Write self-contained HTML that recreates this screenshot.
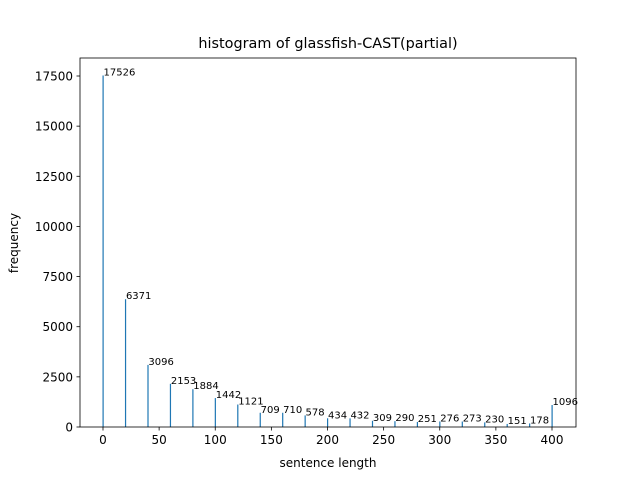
<!DOCTYPE html>
<html><head><meta charset="utf-8"><style>
body{margin:0;background:#fff;}
svg{display:block;font-family:"DejaVu Sans","Liberation Sans",sans-serif;}
</style></head><body>
<svg id="chart" width="640" height="480">
<rect x="0" y="0" width="640" height="480" fill="#fff"/>
<text x="328" y="48" text-anchor="middle" font-size="14.4" fill="#000">histogram of glassfish-CAST(partial)</text>
<g id="bars"></g>
<g id="labels"></g>
<g id="xaxis"></g>
<g id="yaxis"></g>
<rect x="80" y="58" width="496" height="369" fill="none" stroke="#000" stroke-width="0.8"/>
<text x="328" y="467" text-anchor="middle" font-size="12">sentence length</text>
<text x="18" y="243" text-anchor="middle" font-size="12" transform="rotate(-90 18 243)">frequency</text>
</svg>
<script>
const categories=[0,20,40,60,80,100,120,140,160,180,200,220,240,260,280,300,320,340,360,380,400];
const values=[17526,6371,3096,2153,1884,1442,1121,709,710,578,434,432,309,290,251,276,273,230,151,178,1096];
const xTicks=[0,50,100,150,200,250,300,350,400];
const yTicks=[0,2500,5000,7500,10000,12500,15000,17500];
const NS="http://www.w3.org/2000/svg";
const X=v=>103+v*(449/400);
const Y=v=>427-v*(351/17500);
function mk(t,a,p){const e=document.createElementNS(NS,t);for(const k in a)e.setAttribute(k,a[k]);p.appendChild(e);return e;}
const bars=document.getElementById('bars'),labels=document.getElementById('labels');
categories.forEach((c,i)=>{
  const r=mk('rect',{x:X(c)-0.5,y:Y(values[i]),width:1.2,height:427-Y(values[i]),fill:'#1f77b4'},bars);
  
  
  const t=mk('text',{x:X(c)+0.5,y:Y(values[i]),'font-size':'10',fill:'#000'},labels);
  t.textContent=values[i];
  
  
});
const xa=document.getElementById('xaxis'),ya=document.getElementById('yaxis');
xTicks.forEach(v=>{
  const l=mk('line',{x1:X(v),x2:X(v),y1:427,y2:430.5,stroke:'#000','stroke-width':0.8},xa);
  
  
  const t=mk('text',{x:X(v),y:444,'text-anchor':'middle','font-size':'12'},xa);
  t.textContent=v;
  
  
});
yTicks.forEach(v=>{
  const l=mk('line',{x1:76.5,x2:80,y1:Y(v),y2:Y(v),stroke:'#000','stroke-width':0.8},ya);
  
  
  const t=mk('text',{x:73,y:Y(v)+4.5,'text-anchor':'end','font-size':'12'},ya);
  t.textContent=v;
  
  
});
</script>
</body></html>
